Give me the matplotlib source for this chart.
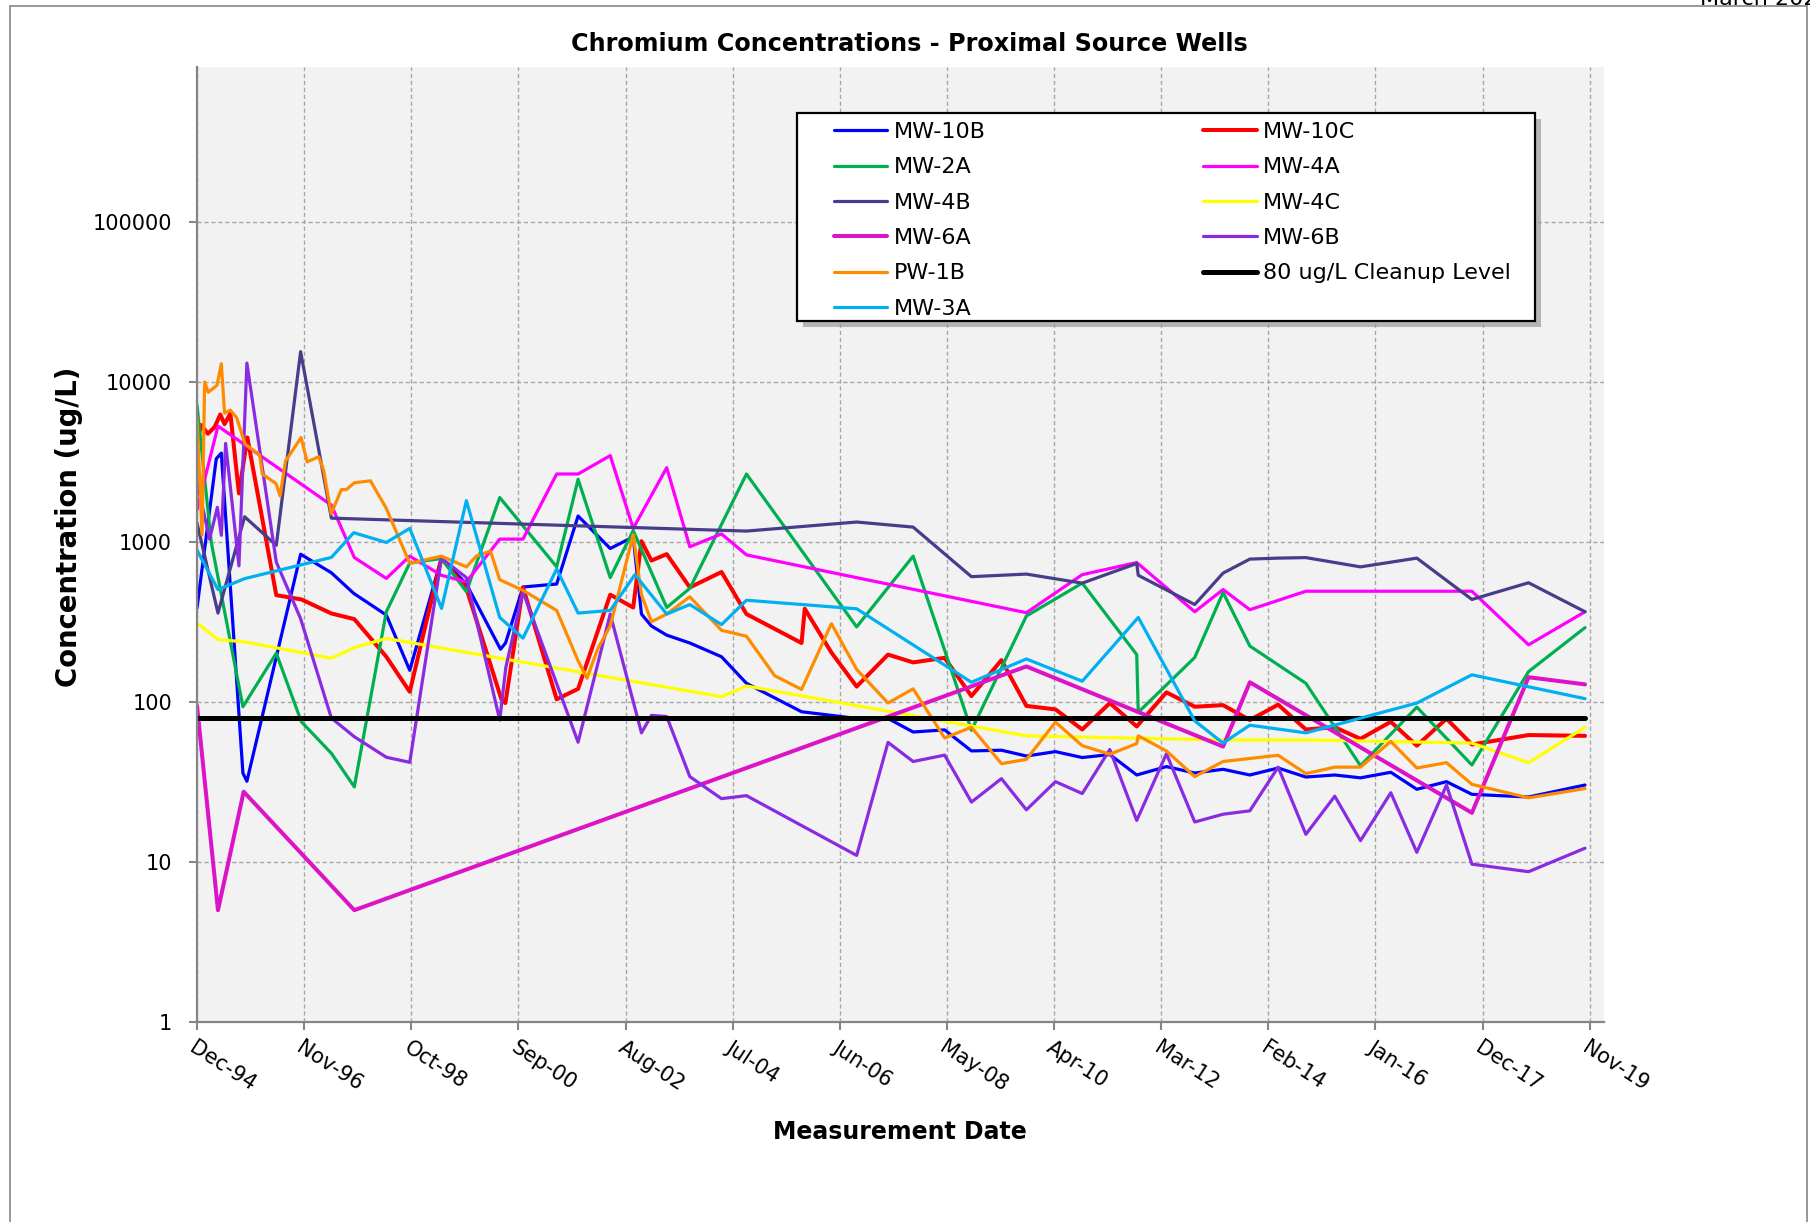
import matplotlib
matplotlib.use('Agg')
import matplotlib.pyplot as plt
from matplotlib.patches import Rectangle
from matplotlib.ticker import NullLocator
import pandas as pd

# --- data ---
mw10b_dates = ['1994-12-15', '1995-04-20', '1995-05-23', '1995-10-11', '1995-11-06', '1996-10-22',
               '1997-05-11', '1997-10-04', '1998-05-05', '1998-10-05', '1999-04-30', '1999-10-10',
               '2000-05-20', '2000-06-22', '2000-10-14', '2001-05-22', '2001-10-09', '2002-05-07',
               '2002-10-04', '2002-11-27', '2003-01-31', '2003-05-11', '2003-10-09', '2004-05-03',
               '2004-10-13', '2005-10-08', '2006-10-03', '2007-04-26', '2007-10-07', '2008-04-30',
               '2008-10-22', '2009-05-06', '2009-10-16', '2010-04-24', '2010-10-16', '2011-04-14',
               '2011-10-07', '2012-04-18', '2012-10-20', '2013-04-23', '2013-10-15', '2014-04-18',
               '2014-10-16', '2015-04-23', '2015-10-08', '2016-04-23', '2016-10-10', '2017-04-22',
               '2017-10-05', '2018-10-10', '2019-10-14']
mw10b_vals = [387, 3320, 3600, 36, 32, 840, 643, 478, 350, 158, 792, 547, 214, 234, 524, 547, 1456,
              912, 1078, 355, 299, 262, 234, 192, 131, 87, 79, 79, 65, 67, 49.5, 50, 46, 49, 45, 47,
              35, 39.5, 36, 38, 35, 38.7, 34, 35, 33.6, 36.4, 28.5, 31.8, 26.5, 25.5, 30.3]

mw10c_dates = ['1994-12-15', '1995-01-12', '1995-02-24', '1995-04-09', '1995-05-16', '1995-06-13',
               '1995-07-21', '1995-09-15', '1995-11-09', '1996-05-16', '1996-10-27', '1997-05-11',
               '1997-10-08', '1998-05-05', '1998-10-05', '1999-04-30', '1999-10-10', '2000-05-26',
               '2000-06-21', '2000-10-14', '2001-05-22', '2001-10-09', '2002-05-07', '2002-10-04',
               '2002-11-27', '2003-01-31', '2003-05-11', '2003-10-09', '2004-05-03', '2004-10-13',
               '2005-10-08', '2005-10-29', '2006-04-21', '2006-10-03', '2007-04-26', '2007-10-07',
               '2008-04-30', '2008-10-22', '2009-05-06', '2009-10-16', '2010-04-24', '2010-10-16',
               '2011-04-14', '2011-10-07', '2012-04-18', '2012-10-20', '2013-04-23', '2013-10-15',
               '2014-04-18', '2014-10-16', '2015-04-23', '2015-10-08', '2016-04-23', '2016-10-10',
               '2017-04-22', '2017-10-05', '2018-10-10', '2019-10-14']
mw10c_vals = [4340, 5390, 4760, 5230, 6280, 5465, 6370, 2015, 4510, 466, 438, 358, 330, 192, 116,
              792, 514, 104, 98.6, 521, 104, 121, 469, 390, 1013, 767, 841, 521, 650, 355, 234, 383,
              204, 125, 198, 177, 189, 109, 183, 94.6, 90, 67.4, 98.6, 70.4, 115, 93.5, 95.7, 77.2,
              96.3, 67.4, 69.6, 58.9, 75.3, 53.4, 78.7, 54.3, 62.2, 61.5]

mw2a_dates = ['1994-12-15', '1995-03-18', '1995-10-11', '1996-05-16', '1996-10-27', '1997-05-11',
              '1997-10-08', '1998-05-05', '1998-10-05', '1999-04-30', '1999-10-10', '2000-05-15',
              '2001-05-22', '2001-10-09', '2002-05-07', '2002-10-04', '2003-05-11', '2003-10-09',
              '2004-10-13', '2006-10-03', '2007-10-07', '2008-10-22', '2009-10-16', '2010-10-16',
              '2011-10-07', '2011-10-17', '2012-10-20', '2013-04-23', '2013-10-15', '2014-10-16',
              '2015-10-08', '2016-10-10', '2017-10-05', '2018-10-10', '2019-10-14']
mw2a_vals = [7180, 1000, 93.5, 202, 75.3, 47.8, 29.5, 367, 740, 790, 490, 1900, 700, 2470, 600, 1182,
             390, 514, 2665, 295, 817, 66.6, 345, 554, 198, 86.3, 190, 484, 224, 131, 40, 93, 40.4,
             155, 292]

mw4a_dates = ['1994-12-15', '1995-05-01', '1997-05-11', '1997-10-08', '1998-05-05', '1998-10-05',
              '1999-04-30', '1999-10-10', '2000-05-15', '2000-10-14', '2001-05-22', '2001-10-09',
              '2002-05-07', '2002-10-04', '2003-05-11', '2003-10-09', '2004-05-03', '2004-10-13',
              '2009-10-16', '2010-10-16', '2011-10-07', '2012-10-20', '2013-04-23', '2013-10-15',
              '2014-10-16', '2017-10-05', '2018-10-10', '2019-10-14']
mw4a_vals = [1585, 5310, 1703, 801, 593, 817, 620, 564, 1044, 1044, 2665, 2665, 3473, 1218, 2920, 935,
             1125, 832, 362, 626, 745, 367, 505, 378, 493, 493, 228, 367]

mw4b_dates = ['1994-12-15', '1995-05-01', '1995-10-22', '1996-05-16', '1996-10-22', '1997-05-11',
              '2004-10-13', '2006-10-03', '2007-10-07', '2008-10-22', '2009-10-16', '2010-10-16',
              '2011-10-07', '2011-10-17', '2012-10-20', '2013-04-23', '2013-10-15', '2014-04-18',
              '2014-10-16', '2015-10-08', '2016-10-10', '2017-10-05', '2018-10-10', '2019-10-14']
mw4b_vals = [1318, 360, 1440, 955, 15500, 1412, 1172, 1335, 1241, 608, 631, 554, 735, 620, 407, 640,
             783, 794, 800, 700, 794, 438, 557, 367]

mw4c_dates = ['1994-12-15', '1995-05-01', '1995-10-22', '1997-05-11', '1997-10-08', '1998-05-05',
              '2004-05-03', '2004-10-13', '2009-10-16', '2010-10-16', '2013-04-23', '2014-10-16',
              '2017-10-05', '2018-10-10', '2019-10-14']
mw4c_vals = [311, 246, 238, 188, 219, 250, 108, 126, 61.5, 60.4, 58, 58, 55.4, 41.8, 69.6]

mw6a_dates = ['1994-12-15', '1995-05-01', '1995-10-16', '1997-10-08', '2009-10-16', '2013-04-23',
              '2013-10-15', '2017-10-05', '2018-10-10', '2019-10-14']
mw6a_vals = [95, 5, 27.5, 5, 167, 52.7, 133, 20.3, 143, 129]

mw6b_dates = ['1994-12-15', '1995-03-07', '1995-04-27', '1995-05-23', '1995-06-20', '1995-09-15',
              '1995-11-06', '1996-05-16', '1996-10-22', '1997-05-11', '1997-10-08', '1998-05-05',
              '1998-10-05', '1999-04-30', '1999-10-10', '2000-05-15', '2000-06-24', '2000-10-14',
              '2001-10-09', '2002-05-07', '2002-11-27', '2003-01-31', '2003-05-11', '2003-10-09',
              '2004-05-03', '2004-10-13', '2006-10-03', '2007-04-26', '2007-10-07', '2008-04-30',
              '2008-10-22', '2009-05-06', '2009-10-16', '2010-04-24', '2010-10-16', '2011-04-14',
              '2011-10-07', '2012-04-18', '2012-10-20', '2013-04-23', '2013-10-15', '2014-04-18',
              '2014-10-16', '2015-04-23', '2015-10-08', '2016-04-23', '2016-10-10', '2017-04-22',
              '2017-10-05', '2018-10-10', '2019-10-14']
mw6b_vals = [2385, 1044, 1650, 1103, 4140, 710, 13150, 750, 332, 79.4, 60.7, 45.2, 42, 792, 600, 77.2,
             165, 490, 56.1, 355, 64.2, 82.6, 81.2, 34.2, 24.9, 26, 11, 56, 42.5, 46.6, 23.7, 33.2,
             21.2, 31.8, 26.8, 50.5, 18.2, 47.5, 17.8, 19.9, 20.9, 39.2, 14.9, 25.8, 13.6, 27.1, 11.5,
             30.3, 9.7, 8.7, 12.2]

pw1b_dates = ['1994-12-15', '1995-01-17', '1995-02-03', '1995-02-27', '1995-04-25', '1995-05-23',
              '1995-06-13', '1995-07-21', '1995-08-31', '1995-10-25', '1996-01-28', '1996-02-15',
              '1996-05-15', '1996-06-10', '1996-07-15', '1996-10-25', '1996-12-04', '1997-02-17',
              '1997-03-21', '1997-05-10', '1997-07-15', '1997-08-17', '1997-10-08', '1998-01-21',
              '1998-05-05', '1998-10-05', '1999-04-30', '1999-10-10', '1999-12-14', '2000-03-15',
              '2000-05-15', '2000-10-14', '2001-05-22', '2001-10-09', '2001-12-06', '2002-02-16',
              '2002-05-07', '2002-10-04', '2002-11-27', '2003-01-31', '2003-05-11', '2003-10-09',
              '2004-05-03', '2004-10-13', '2005-04-16', '2005-10-08', '2006-04-21', '2006-10-03',
              '2007-04-26', '2007-10-07', '2008-04-30', '2008-10-22', '2009-05-06', '2009-10-16',
              '2010-04-24', '2010-10-16', '2011-04-14', '2011-10-07', '2011-10-17', '2012-04-18',
              '2012-10-20', '2013-04-23', '2013-10-15', '2014-04-18', '2014-10-16', '2015-04-23',
              '2015-10-08', '2016-04-23', '2016-10-10', '2017-04-22', '2017-10-05', '2018-10-10',
              '2019-10-14']
pw1b_vals = [6070, 1107, 10020, 8640, 9575, 13050, 6400, 6680, 5995, 4100, 3510, 2660, 2320, 1940,
             3210, 4500, 3175, 3415, 2820, 1503, 2130, 2130, 2348, 2416, 1623, 736, 817, 700, 817, 879,
             582, 499, 374, 181, 141, 217, 299, 1111, 469, 318, 355, 455, 281, 258, 146, 120, 309, 160,
             98.6, 121, 59.6, 69.6, 41.2, 43.8, 74.9, 53.4, 47.2, 55, 61.5, 49.5, 34.2, 42.5, 44.4,
             46.5, 35.7, 39.2, 39.2, 56.7, 38.7, 41.8, 30.6, 25.2, 28.8]

mw3a_dates = ['1994-12-15', '1995-05-01', '1995-10-22', '1997-05-11', '1997-10-04', '1998-05-05',
              '1998-10-05', '1999-05-01', '1999-10-10', '2000-05-15', '2000-10-14', '2001-05-22',
              '2001-10-09', '2002-05-07', '2002-10-15', '2003-05-11', '2003-10-09', '2004-05-03',
              '2004-10-13', '2006-10-03', '2008-10-22', '2009-10-16', '2010-10-16', '2011-10-17',
              '2012-10-20', '2013-04-23', '2013-10-15', '2014-10-16', '2016-10-10', '2017-10-05',
              '2019-10-14']
mw3a_vals = [891, 505, 591, 802, 1145, 995, 1218, 385, 1816, 338, 251, 679, 360, 374, 626, 355, 407,
             305, 433, 383, 133, 186, 135, 338, 76.3, 55.4, 71.7, 64.2, 98.6, 148, 105]

cleanup_dates = ['1994-12-15', '2019-10-14']
cleanup_vals = [80, 80]

x_tick_dates = ['1994-12-15', '1996-11-14', '1998-10-15', '2000-09-14', '2002-08-15', '2004-07-15',
                '2006-06-15', '2008-05-15', '2010-04-15', '2012-03-15', '2014-02-13', '2016-01-14',
                '2017-12-14', '2019-11-14']
x_tick_labels = ['Dec-94', 'Nov-96', 'Oct-98', 'Sep-00', 'Aug-02', 'Jul-04', 'Jun-06', 'May-08',
                 'Apr-10', 'Mar-12', 'Feb-14', 'Jan-16', 'Dec-17', 'Nov-19']
y_ticks = [1, 10, 100, 1000, 10000, 100000]
y_tick_labels = ['1', '10', '100', '1000', '10000', '100000']

# label, dates, values, colour, width
series = [
    ('MW-10B', mw10b_dates, mw10b_vals, '#0000FF', 2.3),
    ('MW-10C', mw10c_dates, mw10c_vals, '#FF0000', 2.9),
    ('MW-2A', mw2a_dates, mw2a_vals, '#00B050', 2.3),
    ('MW-4A', mw4a_dates, mw4a_vals, '#FF00FF', 2.3),
    ('MW-4B', mw4b_dates, mw4b_vals, '#483D8B', 2.3),
    ('MW-4C', mw4c_dates, mw4c_vals, '#FFFF00', 2.3),
    ('MW-6A', mw6a_dates, mw6a_vals, '#DC14C8', 2.9),
    ('MW-6B', mw6b_dates, mw6b_vals, '#8A2BE2', 2.3),
    ('PW-1B', pw1b_dates, pw1b_vals, '#FF8C00', 2.3),
    ('80 ug/L Cleanup Level', cleanup_dates, cleanup_vals, '#000000', 3.6),
    ('MW-3A', mw3a_dates, mw3a_vals, '#00B0F0', 2.3),
]
legend_order = ['MW-10B', 'MW-2A', 'MW-4B', 'MW-6A', 'PW-1B', 'MW-3A',
                'MW-10C', 'MW-4A', 'MW-4C', 'MW-6B', '80 ug/L Cleanup Level']

plt.rcParams['font.family'] = ['DejaVu Sans']

W, H = 1810, 1222
fig = plt.figure(figsize=(W / 100, H / 100), dpi=100)
ax = fig.add_axes([197 / W, 1 - 1022 / H, (1604 - 197) / W, (1022 - 67) / H])
ax.set_facecolor('#F2F2F2')

lines = {}
for label, d, v, c, lw in series:
    ln, = ax.plot(pd.to_datetime(d), v, color=c, lw=lw, label=label,
                  solid_joinstyle='round', solid_capstyle='round')
    lines[label] = ln

ax.set_yscale('log')
ax.set_ylim(1, 10 ** 5.97)
ax.set_yticks(y_ticks)
ax.set_yticklabels(y_tick_labels)
ax.yaxis.set_minor_locator(NullLocator())

ax.set_xlim(pd.Timestamp('1994-12-15'), pd.Timestamp('2020-02-15'))
ax.set_xticks(pd.to_datetime(x_tick_dates))
ax.set_xticklabels(x_tick_labels, rotation=-33, ha='left', va='top', rotation_mode='anchor')
ax.xaxis.set_minor_locator(NullLocator())

ax.grid(True, which='major', color='#A6A6A6', linestyle=(0, (3, 2)), lw=1)
ax.set_axisbelow(True)
for s in ['top', 'right']:
    ax.spines[s].set_visible(False)
for s in ['left', 'bottom']:
    ax.spines[s].set_color('#868686')
    ax.spines[s].set_linewidth(1.6)
ax.tick_params(axis='both', direction='out', length=6, width=1.5, color='#868686', labelsize=15)
ax.tick_params(axis='y', pad=12)
ax.tick_params(axis='x', pad=5)

fig.text(0.5025, 0.964, 'Chromium Concentrations - Proximal Source Wells',
         ha='center', va='center', fontsize=17.2, fontweight='bold')
fig.text(900 / W, 1 - 1132 / H, 'Measurement Date', ha='center', va='center',
         fontsize=17, fontweight='bold')
fig.text(69 / W, 1 - 527 / H, 'Concentration (ug/L)', ha='center', va='center',
         rotation=90, fontsize=19.8, fontweight='bold')
fig.text(1700 / W, 1 - 5 / H, 'March 2020', ha='left', va='baseline', fontsize=16)

# outer chart border
fig.patches.append(Rectangle((10 / W, -0.05), (1807 - 10) / W, 1 - 6 / H + 0.05, fill=False,
                             edgecolor='#868686', lw=1.2, transform=fig.transFigure))

# legend box with shadow
lx0, lx1, ly0, ly1 = 796.5, 1535, 113, 321
fig.patches.append(Rectangle(((lx0 + 6) / W, 1 - (ly1 + 6) / H), (lx1 - lx0) / W, (ly1 - ly0) / H,
                             facecolor='#9A9A9A', edgecolor='none', alpha=0.7,
                             transform=fig.transFigure, zorder=2))
fig.patches.append(Rectangle((lx0 / W, 1 - ly1 / H), (lx1 - lx0) / W, (ly1 - ly0) / H,
                             facecolor='white', edgecolor='black', lw=1.6,
                             transform=fig.transFigure, zorder=3))
leg = fig.legend([lines[k] for k in legend_order], legend_order, loc='upper left',
                 bbox_to_anchor=(834 / W, 1 - 122 / H), frameon=False, ncol=2, fontsize=16,
                 handlelength=2.4, handletextpad=0.28, columnspacing=9.8, labelspacing=0.69,
                 borderpad=0, borderaxespad=0)
leg.set_zorder(5)

fig.savefig('out.png', dpi=100)
